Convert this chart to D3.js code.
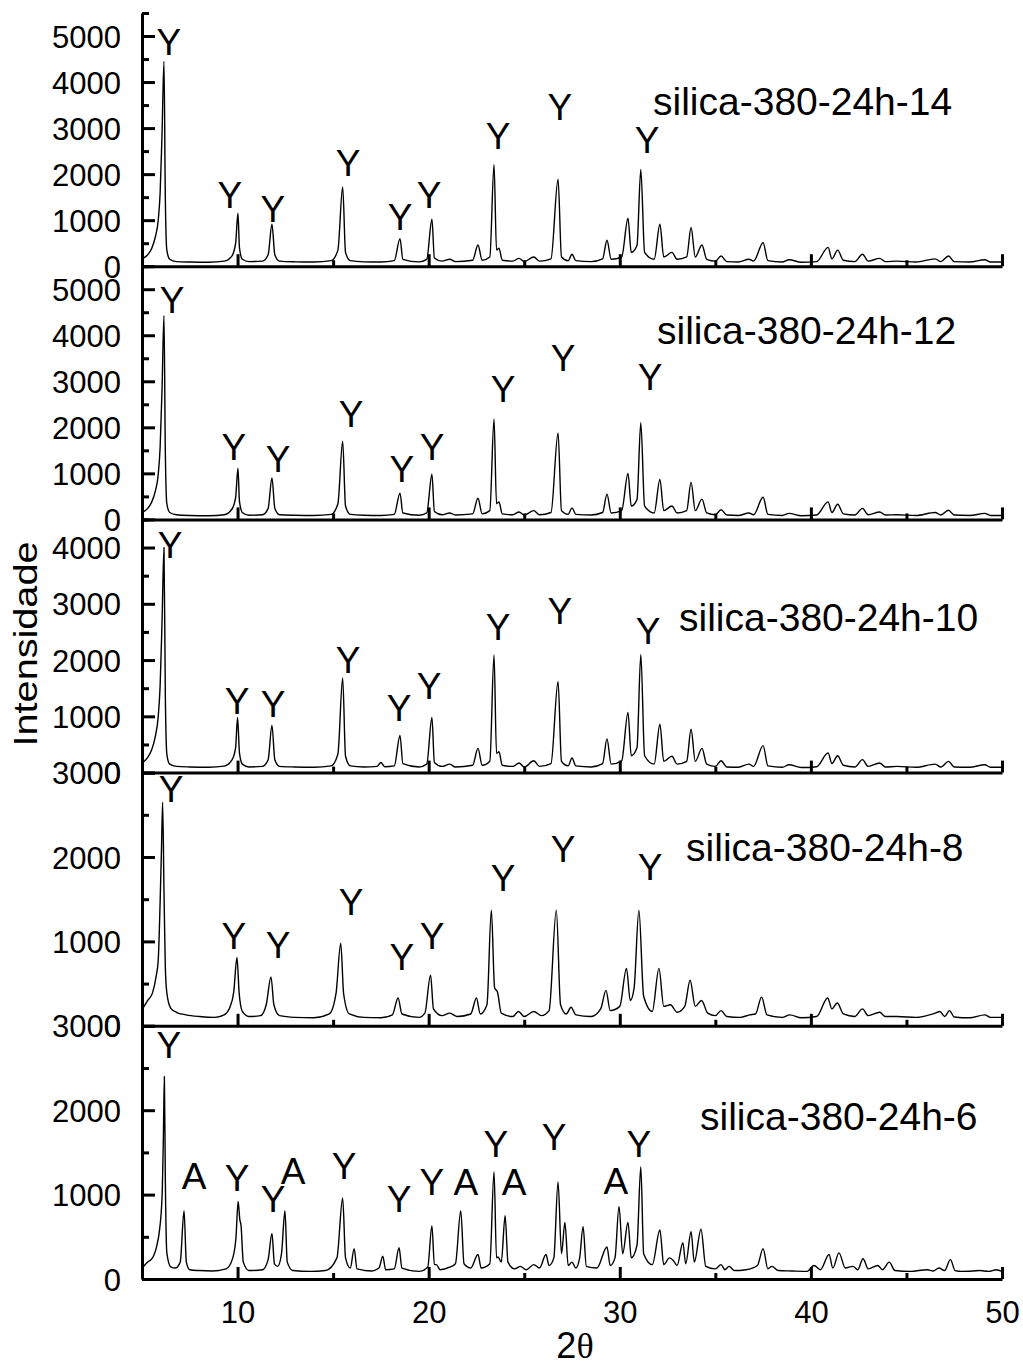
<!DOCTYPE html>
<html>
<head>
<meta charset="utf-8">
<script src="https://cdn.jsdelivr.net/npm/d3@7"></script>
<style>
  html, body { margin: 0; padding: 0; background: #fff; }
  svg text { font-family: "Liberation Sans", Arial, sans-serif; fill: #000; }
</style>
</head>
<body>
<div id="chart"></div>
<script>
// XRD patterns, silica-380-24h series (2θ, intensity)

const xTicks = [10, 20, 30, 40, 50];
const xMinorTicks = [15, 25, 35, 45];

const sampleNames = ['silica-380-24h-14', 'silica-380-24h-12', 'silica-380-24h-10', 'silica-380-24h-8', 'silica-380-24h-6'];
const yMax = [5500, 5500, 4500, 3000, 3000];
// where each sample name sits, in data units (2θ, intensity)
const nameAnchors = [[31.74, 3280], [31.95, 3800], [33.1, 2520], [33.47, 1950], [34.2, 1770]];

const pattern14 = [[5.05,170],[5.3,250],[5.5,380],[5.7,640],[5.85,1000],[5.95,1600],[6.05,2900],[6.15,4450],[6.22,1500],[6.3,350],[6.45,150],[6.8,100],[7.5,90],[8.5,85],[9.3,110],[9.7,220],[9.9,500],[10.02,1150],[10.1,400],[10.25,150],[10.6,100],[11.3,110],[11.6,250],[11.8,910],[11.95,250],[12.2,110],[13,95],[14,90],[14.9,120],[15.25,350],[15.5,1720],[15.65,300],[15.9,120],[16.6,95],[17.5,90],[18.2,120],[18.5,600],[18.65,150],[19.5,95],[19.9,150],[20.17,1020],[20.3,180],[20.7,110],[21.1,150],[21.4,100],[22.3,130],[22.58,460],[22.8,130],[23.2,200],[23.42,2210],[23.55,350],[23.68,390],[23.85,130],[24.4,110],[24.73,170],[25.0,100],[25.5,200],[25.8,110],[26.4,160],[26.77,1890],[26.95,200],[27.3,120],[27.5,260],[27.7,120],[28.5,100],[29.1,160],[29.33,565],[29.55,150],[30.1,200],[30.43,1040],[30.6,300],[30.9,450],[31.1,2100],[31.3,300],[31.8,150],[32.1,910],[32.3,200],[32.73,300],[33.0,150],[33.5,200],[33.73,840],[33.95,200],[34.3,460],[34.55,150],[35.0,110],[35.3,220],[35.6,100],[36.2,90],[36.76,150],[37.0,110],[37.5,510],[37.75,120],[38.5,90],[38.86,140],[39.5,85],[40.3,100],[40.9,410],[41.1,160],[41.4,350],[41.7,130],[42.3,100],[42.7,260],[43.0,110],[43.6,170],[43.9,100],[44.5,110],[45.5,90],[46.5,160],[46.8,100],[47.2,220],[47.5,100],[48.3,90],[49.1,140],[49.4,90],[50,90]];

const pattern12 = [[5.05,160],[5.3,240],[5.5,370],[5.7,620],[5.85,980],[5.95,1580],[6.05,2850],[6.15,4430],[6.22,1480],[6.3,340],[6.45,150],[6.8,100],[7.5,85],[8.5,80],[9.3,100],[9.7,220],[9.9,480],[10.02,1110],[10.1,390],[10.25,150],[10.6,90],[11.3,100],[11.6,240],[11.8,900],[11.95,240],[12.2,100],[13,90],[14,85],[14.9,110],[15.25,340],[15.5,1700],[15.65,290],[15.9,110],[16.6,90],[17.5,85],[18.2,110],[18.5,570],[18.65,140],[19.5,90],[19.9,140],[20.17,980],[20.3,170],[20.7,100],[21.1,140],[21.4,95],[22.3,120],[22.58,460],[22.8,120],[23.2,190],[23.42,2180],[23.55,340],[23.68,380],[23.85,120],[24.4,100],[24.73,160],[25.0,95],[25.5,190],[25.8,100],[26.4,150],[26.77,1880],[26.95,190],[27.3,110],[27.5,250],[27.7,110],[28.5,95],[29.1,150],[29.33,550],[29.55,140],[30.1,190],[30.43,1000],[30.6,290],[30.9,430],[31.1,2100],[31.3,290],[31.8,140],[32.1,870],[32.3,190],[32.73,290],[33.0,140],[33.5,190],[33.73,810],[33.95,190],[34.3,440],[34.55,140],[35.0,100],[35.3,210],[35.6,95],[36.2,85],[36.76,140],[37.0,100],[37.5,480],[37.75,110],[38.5,85],[38.86,130],[39.5,80],[40.3,95],[40.9,380],[41.1,150],[41.4,330],[41.7,120],[42.3,95],[42.7,240],[43.0,100],[43.6,160],[43.9,95],[44.5,100],[45.5,85],[46.5,150],[46.8,95],[47.2,200],[47.5,95],[48.3,85],[49.1,130],[49.4,85],[50,85]];

const pattern10 = [[5.05,180],[5.3,270],[5.5,400],[5.7,650],[5.85,1000],[5.95,1550],[6.05,2700],[6.15,4000],[6.22,1400],[6.3,330],[6.45,150],[6.8,110],[7.5,100],[8.5,95],[9.3,115],[9.7,220],[9.9,450],[10.0,980],[10.1,350],[10.25,150],[10.6,100],[11.3,110],[11.6,230],[11.8,840],[11.95,230],[12.2,110],[13,100],[14,95],[14.9,120],[15.25,330],[15.5,1680],[15.65,290],[15.9,120],[16.6,100],[17.3,110],[17.5,180],[17.7,105],[18.2,120],[18.5,660],[18.65,160],[19.5,100],[19.9,150],[20.17,980],[20.3,180],[20.7,110],[21.1,150],[21.4,100],[22.3,130],[22.58,430],[22.8,130],[23.2,200],[23.42,2090],[23.55,340],[23.68,370],[23.85,130],[24.4,110],[24.73,170],[25.0,100],[25.5,210],[25.8,110],[26.4,160],[26.77,1620],[26.95,200],[27.3,120],[27.5,260],[27.7,120],[28.5,100],[29.1,160],[29.33,600],[29.55,150],[30.1,210],[30.43,1070],[30.6,300],[30.9,440],[31.1,2100],[31.3,300],[31.8,150],[32.1,860],[32.3,200],[32.73,290],[33.0,150],[33.5,200],[33.73,770],[33.95,200],[34.3,430],[34.55,150],[35.0,110],[35.3,210],[35.6,100],[36.2,95],[36.76,150],[37.0,110],[37.5,480],[37.75,120],[38.5,95],[38.86,140],[39.5,90],[40.3,105],[40.9,350],[41.1,160],[41.4,300],[41.7,130],[42.3,100],[42.7,230],[43.0,110],[43.6,170],[43.9,100],[44.5,110],[45.5,95],[46.5,150],[46.8,100],[47.2,200],[47.5,100],[48.3,95],[49.1,140],[49.4,95],[50,95]];

const pattern8 = [[5.05,210],[5.3,300],[5.55,390],[5.75,600],[5.85,780],[5.95,1480],[6.02,2100],[6.08,2650],[6.15,1600],[6.22,700],[6.3,390],[6.5,210],[6.8,160],[7.3,130],[8.0,110],[8.8,100],[9.3,130],[9.6,220],[9.8,400],[9.97,810],[10.08,400],[10.25,170],[10.6,110],[11.2,120],[11.5,250],[11.75,580],[11.9,250],[12.2,120],[13,100],[14,95],[14.8,140],[15.15,380],[15.4,980],[15.55,380],[15.85,140],[16.6,100],[17.5,95],[18.1,130],[18.4,330],[18.6,140],[19.5,100],[19.8,150],[20.1,600],[20.25,200],[20.7,120],[21.1,150],[21.5,110],[22.2,140],[22.5,330],[22.7,140],[23.05,250],[23.28,1370],[23.45,450],[23.6,400],[23.8,150],[24.4,110],[24.7,170],[25.0,110],[25.5,170],[25.9,120],[26.3,180],[26.68,1370],[26.9,250],[27.2,140],[27.45,220],[27.7,130],[28.5,110],[29.0,200],[29.28,420],[29.5,180],[30.0,230],[30.35,680],[30.55,300],[30.75,450],[31.0,1370],[31.25,350],[31.7,170],[32.05,680],[32.3,230],[32.65,250],[33.0,160],[33.4,230],[33.68,540],[33.95,230],[34.28,300],[34.6,150],[35.0,120],[35.3,180],[35.6,110],[36.3,100],[36.8,130],[37.1,140],[37.42,340],[37.7,130],[38.5,100],[38.9,130],[39.5,95],[40.3,110],[40.88,330],[41.1,200],[41.38,270],[41.7,140],[42.3,110],[42.7,200],[43.0,120],[43.6,160],[43.9,110],[44.5,110],[45.5,100],[46.5,150],[46.75,170],[47.0,110],[47.25,180],[47.5,105],[48.3,95],[49.1,130],[49.4,100],[50,100]];

const pattern6 = [[5.05,140],[5.3,200],[5.55,250],[5.8,420],[5.9,550],[6.05,980],[6.12,1700],[6.17,2400],[6.22,1200],[6.3,310],[6.5,145],[6.75,130],[7.0,200],[7.2,810],[7.32,200],[7.5,110],[8.0,100],[8.7,95],[9.4,120],[9.75,250],[9.92,500],[10.03,920],[10.12,700],[10.18,640],[10.3,200],[10.6,100],[11.3,110],[11.6,230],[11.8,540],[11.93,180],[12.1,150],[12.3,300],[12.48,810],[12.6,200],[12.9,100],[13.8,90],[14.6,100],[15.2,250],[15.5,960],[15.65,250],[15.9,130],[16.1,360],[16.25,120],[17.0,95],[17.4,130],[17.6,270],[17.75,110],[18.2,120],[18.45,370],[18.6,130],[19.5,90],[19.95,140],[20.17,630],[20.3,170],[20.4,170],[20.6,110],[21.1,140],[21.4,180],[21.68,810],[21.85,180],[22.2,130],[22.58,290],[22.75,130],[23.2,180],[23.42,1270],[23.55,250],[23.63,260],[23.8,200],[24.0,750],[24.15,200],[24.5,120],[24.8,150],[25.1,110],[25.5,170],[25.8,130],[26.14,290],[26.3,160],[26.55,250],[26.77,1150],[26.95,300],[27.13,670],[27.3,160],[27.5,200],[27.7,130],[27.9,250],[28.08,620],[28.25,150],[28.8,130],[29.33,380],[29.5,160],[29.75,250],[29.96,860],[30.15,300],[30.43,670],[30.6,250],[30.9,400],[31.1,1330],[31.25,300],[31.7,170],[32.1,580],[32.3,170],[32.6,250],[32.8,220],[33.0,160],[33.3,430],[33.45,180],[33.73,560],[33.9,200],[34.25,590],[34.5,150],[35.0,120],[35.3,170],[35.5,110],[35.72,150],[36.0,100],[36.6,110],[37.2,160],[37.5,360],[37.75,120],[37.96,150],[38.3,100],[39.0,95],[39.8,90],[40.16,160],[40.5,110],[40.95,290],[41.15,130],[41.47,310],[41.8,130],[42.2,150],[42.45,110],[42.73,240],[43.0,120],[43.5,160],[43.75,110],[44.1,200],[44.4,100],[45.2,90],[46.1,110],[46.4,95],[46.7,130],[47.0,100],[47.3,230],[47.55,100],[47.9,90],[48.5,95],[48.85,100],[49.3,90],[49.7,110],[50,90]];

// phase labels: [text, 2θ, intensity at the letter's baseline]
const labels14 = [['Y',6.41,4590],['Y',9.6,1260],['Y',11.85,960],['Y',15.78,1960],['Y',18.5,780],['Y',20.02,1260],['Y',23.63,2540],['Y',26.87,3170],['Y',31.43,2460]];
const labels12 = [['Y',6.57,4480],['Y',9.81,1290],['Y',12.12,1030],['Y',15.94,2010],['Y',18.6,810],['Y',20.18,1290],['Y',23.89,2550],['Y',27.03,3230],['Y',31.58,2800]];
const labels10 = [['Y',6.47,3820],['Y',9.97,1050],['Y',11.86,980],['Y',15.78,1770],['Y',18.45,910],['Y',20.02,1300],['Y',23.63,2360],['Y',26.87,2640],['Y',31.48,2290]];
const labels8 = [['Y',6.52,2650],['Y',9.81,910],['Y',12.12,800],['Y',15.94,1310],['Y',18.6,660],['Y',20.18,910],['Y',23.89,1600],['Y',27.03,1940],['Y',31.58,1730]];
const labels6 = [['Y',6.41,2620],['A',7.72,1070],['Y',9.97,1040],['Y',11.86,790],['A',12.9,1120],['Y',15.57,1180],['Y',18.45,790],['Y',20.17,1000],['A',21.95,990],['Y',23.52,1450],['A',24.47,990],['Y',26.56,1530],['A',29.8,1010],['Y',31.0,1450]];

const patterns = [pattern14, pattern12, pattern10, pattern8, pattern6];
const labelSets = [labels14, labels12, labels10, labels8, labels6];

const width = 1023, height = 1368;
const plotLeft = 142, plotRight = 1002, plotTop = 13, plotBottom = 1279;
const panelH = (plotBottom - plotTop) / patterns.length;
const fontSans = '"Liberation Sans", Arial, sans-serif';

const svg = d3.select('#chart').append('svg')
    .attr('width', width)
    .attr('height', height);

const x = d3.scaleLinear().domain([5, 50]).range([plotLeft, plotRight]);

patterns.forEach((data, i) => {
    const top = plotTop + i * panelH;
    const bottom = top + panelH;
    const y = d3.scaleLinear().domain([0, yMax[i]]).range([bottom, top]);
    const g = svg.append('g');

    // spectrum
    const line = d3.line()
        .x(d => x(d[0]))
        .y(d => y(d[1]))
        .curve(d3.curveMonotoneX);
    g.append('path')
        .datum(data)
        .attr('d', line)
        .attr('fill', 'none')
        .attr('stroke', '#000')
        .attr('stroke-width', 1.4)
        .attr('stroke-linejoin', 'round');

    // y axis, ticks pointing inward
    const majors = d3.range(0, yMax[i] + 1, 1000);
    const minors = d3.range(500, yMax[i] + 1, 1000);
    const yAx = g.append('g')
        .attr('transform', `translate(${plotLeft},0)`)
        .call(d3.axisLeft(y).tickValues(majors).tickSize(-13).tickSizeOuter(0).tickFormat(d3.format('d')));
    yAx.select('.domain').attr('stroke-width', 3);
    yAx.selectAll('.tick line').attr('stroke-width', 3);
    yAx.selectAll('.tick text')
        .attr('font-size', 31)
        .attr('font-family', fontSans)
        .attr('fill', '#000')
        .attr('x', -21)
        .attr('dy', '0.36em');
    const yMin = g.append('g')
        .attr('transform', `translate(${plotLeft},0)`)
        .call(d3.axisLeft(y).tickValues(minors).tickSize(-7).tickSizeOuter(0).tickFormat(''));
    yMin.select('.domain').remove();
    yMin.selectAll('.tick line').attr('stroke-width', 3);

    // x axis at panel bottom, ticks pointing up
    const xAx = g.append('g')
        .attr('transform', `translate(0,${bottom})`)
        .call(d3.axisBottom(x).tickValues(xTicks).tickSize(-12).tickSizeOuter(0)
            .tickFormat(i === patterns.length - 1 ? d3.format('d') : ''));
    xAx.select('.domain').attr('stroke-width', 3);
    xAx.selectAll('.tick line').attr('stroke-width', 3);
    xAx.selectAll('.tick text')
        .attr('font-size', 31)
        .attr('font-family', fontSans)
        .attr('fill', '#000')
        .attr('y', 22)
        .attr('dy', '0.71em');
    const xMin = g.append('g')
        .attr('transform', `translate(0,${bottom})`)
        .call(d3.axisBottom(x).tickValues(xMinorTicks).tickSize(-6).tickSizeOuter(0).tickFormat(''));
    xMin.select('.domain').remove();
    xMin.selectAll('.tick line').attr('stroke-width', 3);

    // phase labels
    g.selectAll('.phase')
        .data(labelSets[i])
        .join('text')
        .attr('class', 'phase')
        .attr('x', d => x(d[1]))
        .attr('y', d => y(d[2]))
        .attr('text-anchor', 'middle')
        .attr('font-size', 37)
        .text(d => d[0]);

    // sample name
    g.append('text')
        .attr('x', x(nameAnchors[i][0]))
        .attr('y', y(nameAnchors[i][1]))
        .attr('font-size', 39)
        .text(sampleNames[i]);
});

// axis titles
svg.append('text')
    .attr('transform', 'translate(37,644) rotate(-90)')
    .attr('text-anchor', 'middle')
    .attr('font-size', 34)
    .attr('textLength', 205)
    .attr('lengthAdjust', 'spacingAndGlyphs')
    .text('Intensidade');

const xTitle = svg.append('text')
    .attr('x', 575)
    .attr('y', 1358)
    .attr('text-anchor', 'middle')
    .attr('font-size', 36);
xTitle.append('tspan').text('2');
xTitle.append('tspan').attr('font-family', '"Liberation Serif", "Times New Roman", serif').text('θ');
</script>
</body>
</html>
